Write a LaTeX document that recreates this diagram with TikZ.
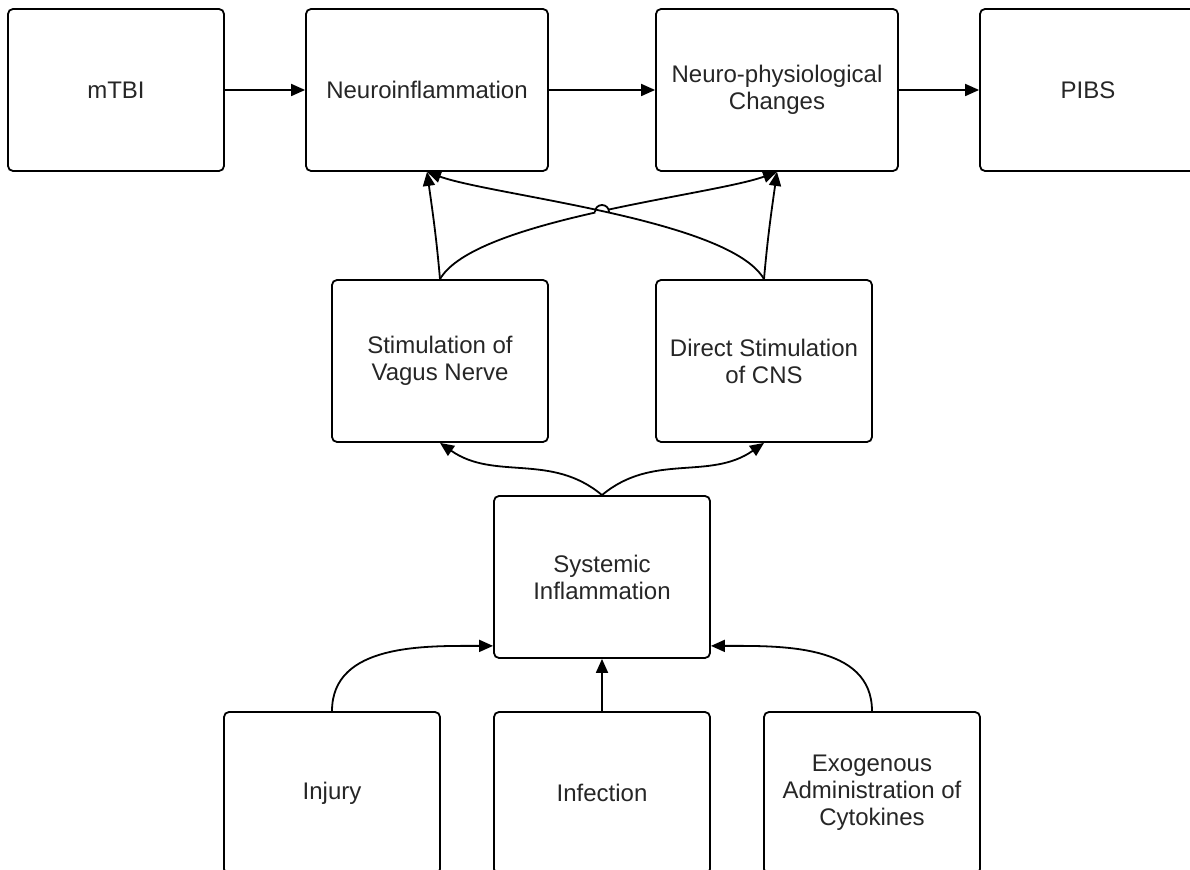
\documentclass[tikz,border=0pt]{standalone}
\usepackage{fontspec}
\setmainfont{Liberation Sans}
\usetikzlibrary{arrows.meta,intersections}

\begin{document}
\begin{tikzpicture}[
    x=0.5pt, y=-0.5pt,
    >={Triangle[length=7pt,width=6pt]},
    box/.style={draw, line width=0.9pt, rounded corners=2.5pt, align=center,
      minimum width=108pt, minimum height=81pt, inner sep=0pt, text=black!85,
      font=\fontsize{12}{13.5}\selectfont},
    widebox/.style={box, minimum width=121pt},
    link/.style={->, line width=0.9pt}
  ]
  \clip (0,0) rectangle (1190,870);

  % top row
  \node [box]     (mtbi)  at (116,90)  {mTBI};
  \node [widebox] (neuro) at (427,90)  {Neuroinflammation};
  \node [widebox] (phys)  at (777,90)  {Neuro-physiological\\Changes};
  \node [box]     (pibs)  at (1088,90) {PIBS};

  % pathways
  \node [box] (vagus) at (440,361) {Stimulation of\\Vagus Nerve};
  \node [box] (cns)   at (764,361) {Direct Stimulation\\of CNS};

  % systemic
  \node [box] (sys) at (602,577) {Systemic\\Inflammation};

  % causes
  \node [box] (injury) at (332,793) {Injury};
  \node [box] (infect) at (602,793) {Infection};
  \node [box] (exo)    at (872,793) {Exogenous\\Administration of\\Cytokines};

  % chain along the top
  \draw [link] (mtbi) -- (neuro);
  \draw [link] (neuro) -- (phys);
  \draw [link] (phys) -- (pibs);

  % crossing links, one jumps over the other
  \path [name path=cnsline] (cns.north) to [out=120, in=-20, looseness=0.5] (neuro.south);
  \draw [link, name path=vagline] (vagus.north) to [out=60, in=200, looseness=0.5] (phys.south);
  \path [name intersections={of=vagline and cnsline, by=jump}];
  \fill [white] (jump) circle [radius=3.5pt];
  \draw [line width=0.9pt] (jump) ++(-3.5pt,-0.6pt) arc [start angle=180, end angle=0, radius=3.5pt];
  \draw [link] (cns.north) to [out=120, in=-20, looseness=0.5] (neuro.south);
  \draw [link] (vagus.north) to [out=95, in=-82] (neuro.south);
  \draw [link] (cns.north) to [out=85, in=-98] (phys.south);

  % systemic to pathways
  \draw [link] (sys.north) to [out=140, in=-35] (vagus.south);
  \draw [link] (sys.north) to [out=40, in=215] (cns.south);

  % causes to systemic
  \draw [link] (injury.north) to [out=90, in=180] ([yshift=6.5pt]sys.south west);
  \draw [link] (infect) -- (sys);
  \draw [link] (exo.north) to [out=90, in=0] ([yshift=6.5pt]sys.south east);
\end{tikzpicture}
\end{document}
